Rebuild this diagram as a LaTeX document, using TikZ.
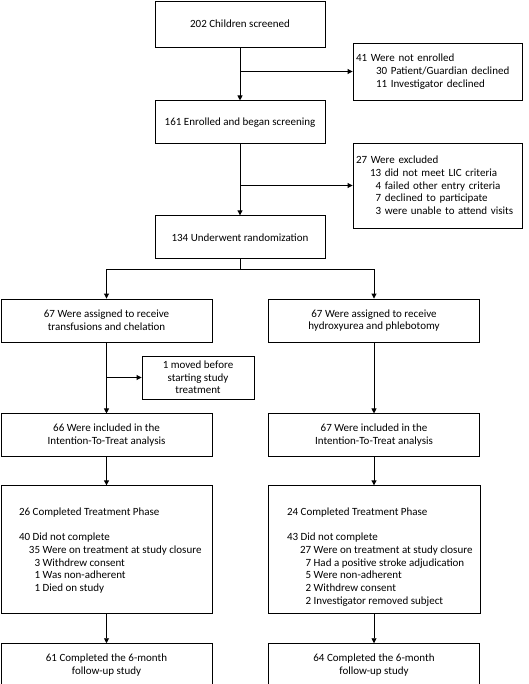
\documentclass[tikz,border=0pt]{standalone}
\usepackage{fontspec}
\setmainfont{Carlito}
\usetikzlibrary{positioning,calc,arrows.meta}

\begin{document}
\begin{tikzpicture}[x=1pt,y=-1pt,
    every node/.style = {font=\fontsize{11}{12.7}\selectfont},
    box/.style = {draw,line width=.9pt,align=center,inner sep=2pt},
    mainbox/.style = {box,minimum width=170pt,minimum height=43pt},
    armbox/.style = {box,minimum width=211pt,minimum height=43pt},
    sidebox/.style = {box,align=left,text width=163pt,minimum width=169pt,inner xsep=3pt},
    line/.style = {line width=.9pt},
    arrow/.style = {line,-{Triangle[length=5pt,width=5pt]}},
    ]
    \useasboundingbox (0,0) rectangle (528,684);
    % main column
    \node[mainbox,minimum height=46pt] (box-screen) at (240,24) {202 Children screened};
    \node[mainbox] (box-enrolled) [below=53pt of box-screen] {161 Enrolled and began screening};
    \node[mainbox] (box-random) [below=71pt of box-enrolled] {134 Underwent randomization};
    \node[sidebox,minimum height=57pt] (box-notenrolled) at (437.5,71.5) {41 Were not enrolled\\
        \hspace*{20pt}30 Patient/Guardian declined\\
        \hspace*{20pt}11 Investigator declined};
    \node[sidebox,minimum height=85pt] (box-excluded) at (437.5,185.5) {27 Were excluded\\
        \hspace*{14pt}13 did not meet LIC criteria\\
        \hspace*{14pt}\phantom{1}4 failed other entry criteria\\
        \hspace*{14pt}\phantom{1}7 declined to participate\\
        \hspace*{14pt}\phantom{1}3 were unable to attend visits};
    % two arms
    \node[armbox] (box-assign-l) at (106.5,320.5) {67 Were assigned to receive\\transfusions and chelation};
    \node[armbox] (box-assign-r) at (374,320.5) {67 Were assigned to receive\\hydroxyurea and phlebotomy};
    \node[box,minimum width=112pt,minimum height=43pt] (box-moved) at (198,377.5) {1 moved before\\starting study\\treatment};
    \node[armbox] (box-itt-l) [below=71pt of box-assign-l] {66 Were included in the\\Intention-To-Treat analysis};
    \node[armbox] (box-itt-r) [below=71pt of box-assign-r] {67 Were included in the\\Intention-To-Treat analysis};
    \node[armbox,minimum height=128pt,inner xsep=0pt] (box-phase-l) [below=28pt of box-itt-l] {%
        \parbox[c][100pt][t]{211pt}{\raggedright\leftskip=18pt\vspace*{8pt}%
        26 Completed Treatment Phase\\[\baselineskip]
        40 Did not complete\\
        \hspace*{10pt}35 Were on treatment at study closure\\
        \hspace*{10pt}\phantom{3}3 Withdrew consent\\
        \hspace*{10pt}\phantom{1}1 Was non-adherent\\
        \hspace*{10pt}\phantom{1}1 Died on study}};
    \node[armbox,minimum height=128pt,inner xsep=0pt] (box-phase-r) [below=28pt of box-itt-r] {%
        \parbox[c][100pt][t]{212pt}{\raggedright\leftskip=19pt\vspace*{8pt}%
        24 Completed Treatment Phase\\[\baselineskip]
        43 Did not complete\\
        \hspace*{13pt}27 Were on treatment at study closure\\
        \hspace*{13pt}\phantom{2}7 Had a positive stroke adjudication\\
        \hspace*{13pt}\phantom{5}5 Were non-adherent\\
        \hspace*{13pt}\phantom{2}2 Withdrew consent\\
        \hspace*{13pt}\phantom{2}2 Investigator removed subject}};
    \node[armbox] (box-fu-l) [below=29pt of box-phase-l] {61 Completed the 6-month\\follow-up study};
    \node[armbox] (box-fu-r) [below=29pt of box-phase-r] {64 Completed the 6-month\\follow-up study};
    \coordinate (split-random) at ($(box-random.south)+(0,10)$);
    % connectors
    \draw[arrow] (box-screen) -- (box-enrolled);
    \draw[arrow] (box-screen.south |- box-notenrolled.west) -- (box-notenrolled);
    \draw[arrow] (box-enrolled) -- (box-random);
    \draw[arrow] (box-enrolled.south |- box-excluded.west) -- (box-excluded);
    \draw[line] (box-random) -- (split-random);
    \draw[arrow] (split-random) -| (box-assign-l);
    \draw[arrow] (split-random) -| (box-assign-r);
    \draw[arrow] (box-assign-l) -- (box-itt-l);
    \draw[arrow] (box-assign-l.south |- box-moved.west) -- (box-moved);
    \draw[arrow] (box-assign-r) -- (box-itt-r);
    \draw[arrow] (box-itt-l) -- (box-phase-l);
    \draw[arrow] (box-itt-r) -- (box-phase-r);
    \draw[arrow] (box-phase-l) -- (box-fu-l);
    \draw[arrow] (box-phase-r) -- (box-fu-r);
\end{tikzpicture}
\end{document}
